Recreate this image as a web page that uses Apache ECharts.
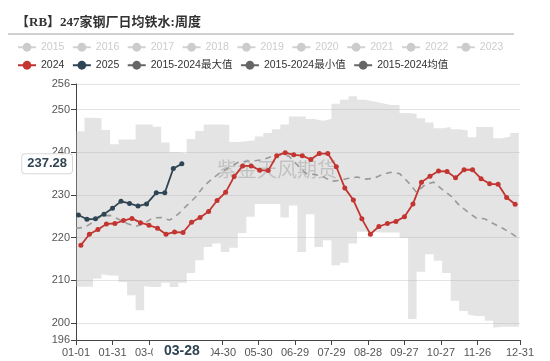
<!DOCTYPE html>
<html><head><meta charset="utf-8">
<script src="https://cdn.jsdelivr.net/npm/echarts@6/dist/echarts.min.js"></script>
<style>html,body{margin:0;padding:0;background:#fff}#c{width:550px;height:361px}</style>
</head><body><div id="c"></div>
<script>
// ---- data ----
const hiddenYears = ['2015','2016','2017','2018','2019','2020','2021','2022','2023'];
const dates2024 = ['01-05','01-12','01-19','01-26','02-02','02-09','02-16','02-23','03-01','03-08','03-15','03-22','03-29','04-05','04-12','04-19','04-26','05-03','05-10','05-17','05-24','05-31','06-07','06-14','06-21','06-28','07-05','07-12','07-19','07-26','08-02','08-09','08-16','08-23','08-30','09-06','09-13','09-20','09-27','10-04','10-11','10-18','10-25','11-01','11-08','11-15','11-22','11-29','12-06','12-13','12-20','12-27'];
const values2024 = [218.2,220.8,221.9,223.2,223.3,224.0,224.5,223.5,222.9,222.2,220.8,221.3,221.2,223.6,224.7,226.1,228.7,230.6,234.3,236.8,236.8,235.8,235.7,239.2,239.9,239.4,239.2,238.3,239.7,239.7,236.6,231.6,228.8,224.4,220.8,222.6,223.3,223.8,224.9,227.9,233.0,234.4,235.6,235.5,234.0,235.9,235.9,233.8,232.6,232.5,229.4,227.8];
const dates2025 = ['01-03','01-10','01-17','01-24','01-31','02-07','02-14','02-21','02-28','03-07','03-14','03-21','03-28'];
const values2025 = [225.3,224.3,224.4,225.5,226.9,228.5,228.0,227.4,227.9,230.5,230.5,236.2,237.28];
const bandDates = ['01-01','01-08','01-15','01-22','01-29','02-05','02-12','02-19','02-26','03-04','03-11','03-18','03-25','04-01','04-08','04-15','04-22','04-29','05-06','05-13','05-20','05-27','06-03','06-10','06-17','06-24','07-01','07-08','07-15','07-22','07-29','08-05','08-12','08-19','08-26','09-02','09-09','09-16','09-23','09-30','10-07','10-14','10-21','10-28','11-04','11-11','11-18','11-25','12-02','12-09','12-16','12-23','12-30'];
const maxValues = [244.9,248.1,248.0,245.2,241.9,243.0,243.0,246.5,246.5,246.0,242.3,240.0,239.7,243.1,245.0,246.5,246.5,246.4,242.4,242.6,242.8,243.7,244.5,245.4,246.5,248.4,248.4,247.8,247.4,247.8,251.4,252.3,253.1,252.3,251.9,251.5,251.1,251.1,249.2,249.0,248.0,247.0,245.6,245.9,245.4,245.1,243.5,245.9,245.9,243.3,243.7,244.5,244.5];
const minValues = [208.5,208.5,210.4,211.4,211.1,209.6,206.5,203.0,208.6,208.4,209.4,208.4,209.4,211.7,214.7,217.8,218.6,216.6,217.6,221.1,224.9,227.9,227.9,227.9,224.7,227.5,216.6,225.5,217.8,219.4,213.5,214.1,218.6,221.4,221.4,221.3,221.2,221.2,219.9,200.9,212.0,216.1,214.6,211.7,205.2,202.8,202.0,201.6,200.5,198.9,199.1,199.1,199.1];
const meanValues = [222.2,222.4,223.6,225.1,225.2,224.3,223.3,222.6,223.3,224.6,224.7,224.1,225.5,227.5,229.4,232.0,233.8,235.3,236.5,237.6,237.9,238.0,238.3,239.0,239.5,239.1,237.0,235.0,234.8,234.3,233.2,233.4,233.9,234.2,233.7,233.9,234.8,235.3,235.0,233.0,230.6,232.4,233.0,231.3,229.8,227.6,226.0,224.6,224.4,223.3,222.3,221.2,219.8];
const monthLengths = [31,29,31,30,31,30,31,31,30,31,30,31];
const yMin = 196, yMax = 256;
const pointerDate = '03-28';

// ---- axis categories (MM-DD of a leap year) ----
const days = [];
monthLengths.forEach((n, m) => { for (let d = 1; d <= n; d++) days.push(String(m + 1).padStart(2, '0') + '-' + String(d).padStart(2, '0')); });
const lastIdx = days.length - 1;
const showIdx = (i) => (i % 30 === 0 && i <= 330) || i === lastIdx;

const pair = (ds, vs) => ds.map((d, i) => [d, vs[i]]);
const FONT = "'Liberation Sans','Noto Sans CJK SC',sans-serif";

const series = [];
hiddenYears.forEach(y => series.push({ name: y, type: 'line', data: [], symbol: 'circle', symbolSize: 5, itemStyle: { color: '#999' } }));
series.push({
  name: '2015-2024最小值', type: 'line', stack: 'band', step: 'end', symbol: 'circle', showSymbol: false,
  data: pair(bandDates, minValues), itemStyle: { color: '#666' }, lineStyle: { opacity: 0 }, z: 1, silent: true
});
series.push({
  name: '2015-2024最大值', type: 'line', stack: 'band', step: 'end', symbol: 'circle', showSymbol: false,
  data: pair(bandDates, maxValues.map((v, i) => +(v - minValues[i]).toFixed(2))),
  itemStyle: { color: '#666' }, lineStyle: { opacity: 0 },
  areaStyle: { color: 'rgba(180,180,180,0.36)', opacity: 1 }, z: 1, silent: true
});
series.push({
  name: '2015-2024均值', type: 'line', symbol: 'circle', showSymbol: false,
  data: pair(bandDates, meanValues), itemStyle: { color: '#666' },
  lineStyle: { color: '#9a9a9a', width: 1.6, type: [6, 5] }, z: 3
});
series.push({
  name: '2024', type: 'line', symbol: 'circle', symbolSize: 5, showAllSymbol: true, data: pair(dates2024, values2024),
  itemStyle: { color: '#c23531' }, lineStyle: { width: 1.8 }, z: 4
});
series.push({
  name: '2025', type: 'line', symbol: 'circle', symbolSize: 5, showAllSymbol: true, data: pair(dates2025, values2025),
  itemStyle: { color: '#2f4554' }, lineStyle: { width: 1.8 }, z: 5
});

const legendCommon = {
  left: 12, width: 530, itemWidth: 18, itemHeight: 11, itemGap: 7.5, inactiveColor: '#ccc',
  textStyle: { fontSize: 10.5, color: '#333', fontFamily: FONT }
};
const selected = {}; hiddenYears.forEach(y => selected[y] = false);
const greyItem = (name) => ({ name, itemStyle: { color: '#666' }, lineStyle: { color: '#666', opacity: 1, width: 2, type: 'solid' } });

const chart = echarts.init(document.getElementById('c'), null, { renderer: 'canvas' });
chart.setOption({
  animation: false,
  textStyle: { fontFamily: FONT },
  title: {
    text: '【RB】247家钢厂日均铁水:周度', left: 11, top: 11,
    textStyle: { fontSize: 13, fontWeight: 'bold', color: '#333', fontFamily: "'Liberation Serif','Noto Sans CJK SC',serif" }
  },
  graphic: [
    { type: 'line', shape: { x1: 8, y1: 34, x2: 514, y2: 34 }, style: { stroke: '#d0d0d0', lineWidth: 2 } },
    { type: 'text', left: 217, top: 159, z: 0, style: { text: '紫金天风期货', fontSize: 20, fill: 'rgba(120,120,120,0.4)', fontFamily: "'Noto Sans CJK SC',sans-serif" } }
  ],
  legend: [
    Object.assign({}, legendCommon, { top: 37, data: hiddenYears, selected }),
    Object.assign({}, legendCommon, { top: 55, data: ['2024', '2025', greyItem('2015-2024最大值'), greyItem('2015-2024最小值'), greyItem('2015-2024均值')] })
  ],
  grid: { left: 76, right: 30, top: 84, bottom: 21 },
  xAxis: {
    type: 'category', data: days, boundaryGap: false,
    axisLine: { lineStyle: { color: '#444' } },
    axisTick: { interval: showIdx, length: 5, lineStyle: { color: '#444' } },
    axisLabel: { interval: showIdx, fontSize: 11, color: '#555', margin: 7 },
    splitLine: { show: false },
    axisPointer: {
      show: true, status: 'show', value: days.indexOf(pointerDate), triggerTooltip: false,
      lineStyle: { opacity: 0 },
      label: { show: true, color: '#2f4554', fontWeight: 'bold', fontSize: 14, backgroundColor: '#fff', padding: [3, 11], margin: 5 }
    }
  },
  yAxis: {
    type: 'value', min: yMin, max: yMax,
    axisLine: { show: true, lineStyle: { color: '#444' } },
    axisTick: { show: true, length: 5, lineStyle: { color: '#444' } },
    axisLabel: { fontSize: 11, color: '#555', margin: 6 },
    splitLine: { lineStyle: { color: '#e3e3e3' } },
    axisPointer: {
      show: true, status: 'show', value: values2025[values2025.length - 1], triggerTooltip: false,
      lineStyle: { opacity: 0 },
      label: { show: true, color: '#2f4554', fontWeight: 'bold', fontSize: 13, backgroundColor: '#fff', borderColor: '#d8d8d8', borderWidth: 1, padding: [3, 5], margin: 4 }
    }
  },
  series
});
</script></body></html>
